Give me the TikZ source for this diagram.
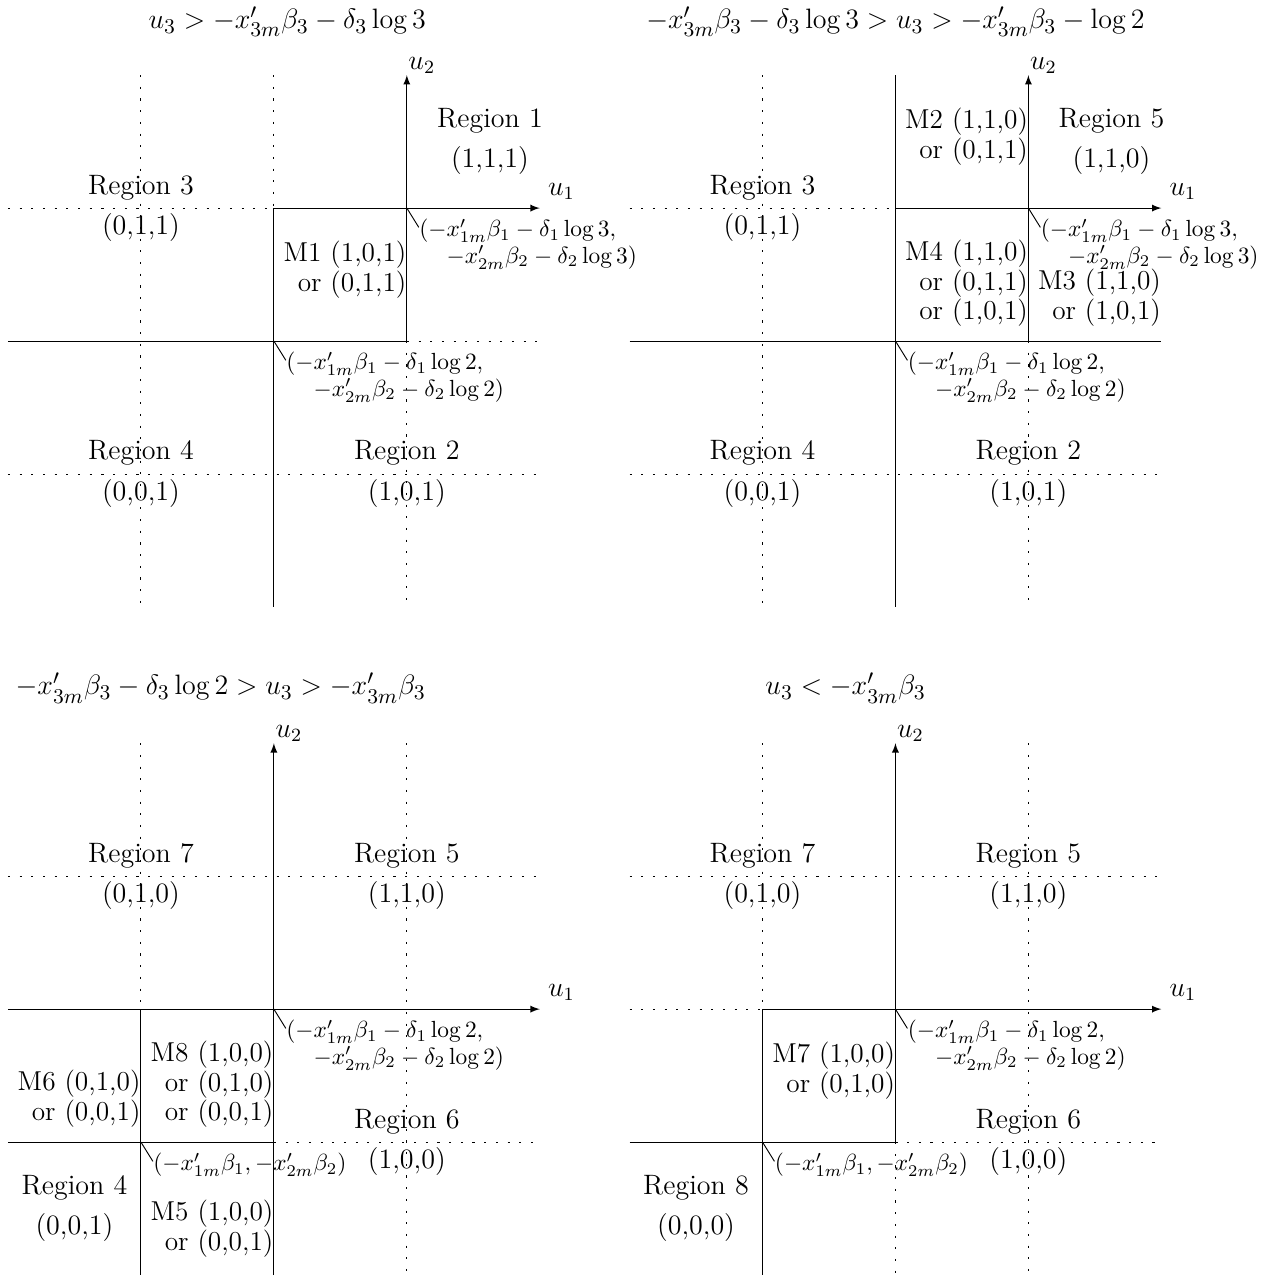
\documentclass[tikz,border=0pt]{standalone}
\usepackage{amsmath,amsfonts,amssymb}
\usetikzlibrary{positioning}

\begin{document}
\begin{tikzpicture}[dotline/.style = {dash pattern=on 0.9pt off 4.1pt},
          axis/.style = {-latex},
          region/.style = {font=\large},
          tuple/.style = {font=\large, inner sep=2pt},
          title/.style = {font=\fontsize{12.6}{15}\selectfont, inner sep=0pt},
          axlabel/.style = {font=\large},
          mlabel/.style = {font=\fontsize{11.7}{11.2}\selectfont, align=right, anchor=east, inner sep=0pt},
          cornerlbl/.style = {font=\fontsize{10.4}{11.4}\selectfont, align=left, anchor=north west, inner sep=0pt}]
          \useasboundingbox (-6.12,-16.05) rectangle (13.18,3.13);

          \begin{scope}
          \node[title] (a-title) at (-1.8,2.8) {$u_3 > -x'_{3m}\beta_3 - \delta_3\log 3$};
          \draw[dotline] (-4,2) -- (-4,-6);
          \draw[dotline] (-2,2) -- (-2,0);
          \draw (-2,0) -- (-2,-6);
          \draw[axis] (0,-2) -- (0,2) node[axlabel, above right, inner sep=0.5pt] (a-u2) {$u_2$};
          \draw[dotline] (0,-2) -- (0,-6);
          \draw[dotline] (-6,0) -- (-2,0);
          \draw[axis] (-2,0) -- (2,0) node[axlabel, above right] (a-u1) {$u_1$};
          \draw (-6,-2) -- (0,-2);
          \draw[dotline] (0,-2) -- (2,-2);
          \draw[dotline] (-6,-4) -- (2,-4);
          \node[region, above] (a-r1) at (1.25,1) {Region 1};
          \node[tuple, below] (a-t1) at (1.25,1) {(1,1,1)};
          \node[region, above] (a-r3) at (-4,0) {Region 3};
          \node[tuple, below] (a-t3) at (-4,0) {(0,1,1)};
          \node[region, above] (a-r4) at (-4,-4) {Region 4};
          \node[tuple, below] (a-t4) at (-4,-4) {(0,0,1)};
          \node[region, above] (a-r2) at (0,-4) {Region 2};
          \node[tuple, below] (a-t2) at (0,-4) {(1,0,1)};
          \node[mlabel] (a-m1) at (0,-0.93) {M1 (1,0,1)\\or (0,1,1)};
          \coordinate (a-c1) at (0,0);
          \node[cornerlbl] (a-l1) at (0.18,-0.16) {$(-x'_{1m}\beta_1 - \delta_1\log 3,$\\$\hspace{11.7pt}-x'_{2m}\beta_2 - \delta_2\log 3)$};
          \draw (a-c1) -- ([yshift=-0.13cm]a-l1.north west);
          \coordinate (a-c2) at (-2,-2);
          \node[cornerlbl] (a-l2) at (-1.82,-2.16) {$(-x'_{1m}\beta_1 - \delta_1\log 2,$\\$\hspace{11.7pt}-x'_{2m}\beta_2 - \delta_2\log 2)$};
          \draw (a-c2) -- ([yshift=-0.13cm]a-l2.north west);
          \end{scope}

          \begin{scope}[shift={(9.35,0)}]
          \node[title] (b-title) at (-2,2.8) {$-x'_{3m}\beta_3 - \delta_3\log 3 > u_3 > -x'_{3m}\beta_3 - \log 2$};
          \draw[dotline] (-4,2) -- (-4,-6);
          \draw (-2,2) -- (-2,-6);
          \draw[axis] (0,-2) -- (0,2) node[axlabel, above right, inner sep=0.5pt] (b-u2) {$u_2$};
          \draw[dotline] (0,-2) -- (0,-6);
          \draw[dotline] (-6,0) -- (-2,0);
          \draw[axis] (-2,0) -- (2,0) node[axlabel, above right] (b-u1) {$u_1$};
          \draw (-6,-2) -- (2,-2);
          \draw[dotline] (-6,-4) -- (2,-4);
          \node[region, above] (b-r5) at (1.25,1) {Region 5};
          \node[tuple, below] (b-t5) at (1.25,1) {(1,1,0)};
          \node[region, above] (b-r3) at (-4,0) {Region 3};
          \node[tuple, below] (b-t3) at (-4,0) {(0,1,1)};
          \node[region, above] (b-r4) at (-4,-4) {Region 4};
          \node[tuple, below] (b-t4) at (-4,-4) {(0,0,1)};
          \node[region, above] (b-r2) at (0,-4) {Region 2};
          \node[tuple, below] (b-t2) at (0,-4) {(1,0,1)};
          \node[mlabel] (b-m2) at (0,1.07) {M2 (1,1,0)\\or (0,1,1)};
          \node[mlabel] (b-m4) at (0,-1.13) {M4 (1,1,0)\\or (0,1,1)\\or (1,0,1)};
          \node[mlabel] (b-m3) at (2,-1.35) {M3 (1,1,0)\\or (1,0,1)};
          \coordinate (b-c1) at (0,0);
          \node[cornerlbl] (b-l1) at (0.18,-0.16) {$(-x'_{1m}\beta_1 - \delta_1\log 3,$\\$\hspace{11.7pt}-x'_{2m}\beta_2 - \delta_2\log 3)$};
          \draw (b-c1) -- ([yshift=-0.13cm]b-l1.north west);
          \coordinate (b-c2) at (-2,-2);
          \node[cornerlbl] (b-l2) at (-1.82,-2.16) {$(-x'_{1m}\beta_1 - \delta_1\log 2,$\\$\hspace{11.7pt}-x'_{2m}\beta_2 - \delta_2\log 2)$};
          \draw (b-c2) -- ([yshift=-0.13cm]b-l2.north west);
          \end{scope}

          \begin{scope}[shift={(-2,-12.05)}]
          \node[title] (c-title) at (-0.8,4.83) {$-x'_{3m}\beta_3 - \delta_3\log 2 > u_3 > -x'_{3m}\beta_3$};
          \draw[dotline] (-2,4) -- (-2,0);
          \draw (-2,0) -- (-2,-4);
          \draw[axis] (0,-4) -- (0,4) node[axlabel, above right, inner sep=0.5pt] (c-u2) {$u_2$};
          \draw[dotline] (2,4) -- (2,-4);
          \draw[dotline] (-4,2) -- (4,2);
          \draw[axis] (-4,0) -- (4,0) node[axlabel, above right] (c-u1) {$u_1$};
          \draw (-4,-2) -- (0,-2);
          \draw[dotline] (0,-2) -- (4,-2);
          \node[region, above] (c-r7) at (-2,2) {Region 7};
          \node[tuple, below] (c-t7) at (-2,2) {(0,1,0)};
          \node[region, above] (c-r5) at (2,2) {Region 5};
          \node[tuple, below] (c-t5) at (2,2) {(1,1,0)};
          \node[region, above] (c-r6) at (2,-2) {Region 6};
          \node[tuple, below] (c-t6) at (2,-2) {(1,0,0)};
          \node[region, above] (c-r4) at (-3,-3) {Region 4};
          \node[tuple, below] (c-t4) at (-3,-3) {(0,0,1)};
          \node[mlabel] (c-m8) at (0,-1.13) {M8 (1,0,0)\\or (0,1,0)\\or (0,0,1)};
          \node[mlabel] (c-m6) at (-2,-1.35) {M6 (0,1,0)\\or (0,0,1)};
          \node[mlabel] (c-m5) at (0,-3.3) {M5 (1,0,0)\\or (0,0,1)};
          \coordinate (c-c1) at (0,0);
          \node[cornerlbl] (c-l1) at (0.18,-0.16) {$(-x'_{1m}\beta_1 - \delta_1\log 2,$\\$\hspace{11.7pt}-x'_{2m}\beta_2 - \delta_2\log 2)$};
          \draw (c-c1) -- ([yshift=-0.13cm]c-l1.north west);
          \coordinate (c-c2) at (-2,-2);
          \node[cornerlbl] (c-l2) at (-1.82,-2.16) {$(-x'_{1m}\beta_1, -x'_{2m}\beta_2)$};
          \draw (c-c2) -- ([yshift=-0.13cm]c-l2.north west);
          \end{scope}

          \begin{scope}[shift={(7.35,-12.05)}]
          \node[title] (d-title) at (-0.75,4.83) {$u_3 < -x'_{3m}\beta_3$};
          \draw[dotline] (-2,4) -- (-2,0);
          \draw (-2,0) -- (-2,-4);
          \draw[axis] (0,-2) -- (0,4) node[axlabel, above right, inner sep=0.5pt] (d-u2) {$u_2$};
          \draw[dotline] (0,-2) -- (0,-4);
          \draw[dotline] (2,4) -- (2,-4);
          \draw[dotline] (-4,2) -- (4,2);
          \draw[dotline] (-4,0) -- (-2,0);
          \draw[axis] (-2,0) -- (4,0) node[axlabel, above right] (d-u1) {$u_1$};
          \draw (-4,-2) -- (0,-2);
          \draw[dotline] (0,-2) -- (4,-2);
          \node[region, above] (d-r7) at (-2,2) {Region 7};
          \node[tuple, below] (d-t7) at (-2,2) {(0,1,0)};
          \node[region, above] (d-r5) at (2,2) {Region 5};
          \node[tuple, below] (d-t5) at (2,2) {(1,1,0)};
          \node[region, above] (d-r6) at (2,-2) {Region 6};
          \node[tuple, below] (d-t6) at (2,-2) {(1,0,0)};
          \node[region, above] (d-r8) at (-3,-3) {Region 8};
          \node[tuple, below] (d-t8) at (-3,-3) {(0,0,0)};
          \node[mlabel] (d-m7) at (0,-0.93) {M7 (1,0,0)\\or (0,1,0)};
          \coordinate (d-c1) at (0,0);
          \node[cornerlbl] (d-l1) at (0.18,-0.16) {$(-x'_{1m}\beta_1 - \delta_1\log 2,$\\$\hspace{11.7pt}-x'_{2m}\beta_2 - \delta_2\log 2)$};
          \draw (d-c1) -- ([yshift=-0.13cm]d-l1.north west);
          \coordinate (d-c2) at (-2,-2);
          \node[cornerlbl] (d-l2) at (-1.82,-2.16) {$(-x'_{1m}\beta_1, -x'_{2m}\beta_2)$};
          \draw (d-c2) -- ([yshift=-0.13cm]d-l2.north west);
          \end{scope}
        \end{tikzpicture}
\end{document}
